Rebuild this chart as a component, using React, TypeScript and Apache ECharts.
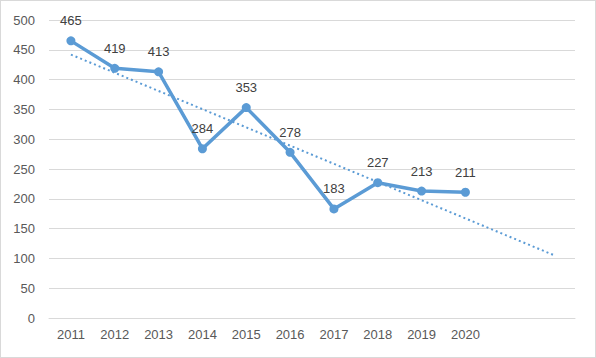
import React, { useEffect, useRef } from "react";
import * as echarts from "echarts";

const categories = ["2011", "2012", "2013", "2014", "2015", "2016", "2017", "2018", "2019", "2020", "", ""];
const values = [465, 419, 413, 284, 353, 278, 183, 227, 213, 211];
// linear trend: start at 2011, end two periods after 2020
const trendStart = 442;
const trendEnd = 106;
const yTicks = { min: 0, max: 500, interval: 50 };

export default function App() {
  const ref = useRef<HTMLDivElement>(null);
  useEffect(() => {
    document.body.style.margin = "0";
    const chart = echarts.init(ref.current!, null, { renderer: "svg" });
    const trend: (number | null)[] = categories.map(() => null);
    trend[0] = trendStart;
    trend[categories.length - 1] = trendEnd;
    const font = "Liberation Sans, Arial, sans-serif";
    chart.setOption({
      animation: false,
      grid: { left: 48, right: 20, top: 19, bottom: 39, containLabel: false },
      xAxis: {
        type: "category",
        data: categories,
        boundaryGap: true,
        axisLine: { lineStyle: { color: "#d9d9d9", width: 1 } },
        axisTick: { show: false },
        axisLabel: { color: "#595959", fontSize: 13, fontFamily: font, margin: 10 },
      },
      yAxis: {
        type: "value",
        min: yTicks.min,
        max: yTicks.max,
        interval: yTicks.interval,
        axisLine: { show: false },
        axisTick: { show: false },
        axisLabel: { color: "#595959", fontSize: 13, fontFamily: font, margin: 14 },
        splitLine: { lineStyle: { color: "#d9d9d9", width: 1 } },
      },
      series: [
        {
          type: "line",
          data: trend,
          connectNulls: true,
          symbol: "none",
          lineStyle: { color: "#5B9BD5", width: 2, type: [2, 3] },
          z: 1,
        },
        {
          type: "line",
          data: values,
          symbol: "circle",
          symbolSize: 9,
          itemStyle: { color: "#5B9BD5" },
          lineStyle: { color: "#5B9BD5", width: 3.5 },
          label: {
            show: true,
            position: "top",
            distance: 9,
            color: "#404040",
            fontSize: 13,
            fontFamily: font,
          },
          z: 2,
        },
      ],
    });
    return () => chart.dispose();
  }, []);
  return (
    <div
      style={{
        width: 596,
        height: 358,
        boxSizing: "border-box",
        border: "1px solid #d9d9d9",
        background: "#fff",
      }}
    >
      <div ref={ref} style={{ width: 594, height: 356 }} />
    </div>
  );
}
